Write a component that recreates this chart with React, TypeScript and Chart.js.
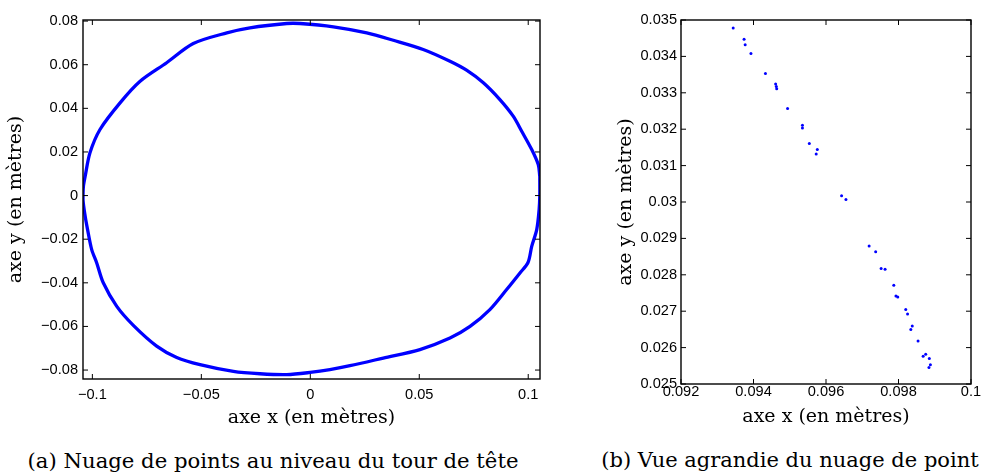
import React, { useEffect, useRef } from "react";
import { Chart, registerables } from "chart.js";

Chart.register(...registerables);

// ---------- Panel (a): head contour (metres) ----------
const contourX = [
  0.1053, 0.1046, 0.1016, 0.097, 0.0931, 0.087, 0.0794, 0.0717, 0.0641, 0.0518,
  0.0381, 0.0259, 0.0106, -0.0047, -0.0108, -0.0277, -0.0383, -0.0537, -0.0659, -0.0781,
  -0.0873, -0.0965, -0.1011, -0.1033, -0.1041, -0.1043, -0.1033, -0.1022, -0.1003, -0.098,
  -0.095, -0.0888, -0.0812, -0.0705, -0.0613, -0.0506, -0.0353, -0.0231, -0.0108, -0.0001,
  0.009, 0.0182, 0.0335, 0.0503, 0.0641, 0.0733, 0.0824, 0.0901, 0.0962, 0.0999,
  0.1016, 0.1039, 0.105, 0.1053,
];
const contourY = [
  0.0089, 0.0142, 0.0211, 0.0295, 0.0364, 0.044, 0.0517, 0.0575, 0.0616, 0.067,
  0.0712, 0.0746, 0.0774, 0.0789, 0.0789, 0.0769, 0.0746, 0.0697, 0.0609, 0.0524,
  0.0425, 0.0303, 0.0196, 0.0089, 0.0043, -0.0018, -0.0095, -0.0156, -0.0248, -0.0309,
  -0.04, -0.0508, -0.0595, -0.0690, -0.0742, -0.0775, -0.0806, -0.0817, -0.0821, -0.0811,
  -0.0798, -0.078, -0.0745, -0.0706, -0.0653, -0.06, -0.0523, -0.0431, -0.0355, -0.0307,
  -0.0233, -0.0156, -0.0064, 0.0,
];
const headXRange = [-0.1043, 0.1054];
const headYRange = [-0.0841, 0.0805];
const headXTicks = [-0.1, -0.05, 0, 0.05, 0.1];
const headXTickLabels = ["\u22120.1", "\u22120.05", "0", "0.05", "0.1"];
const headYTicks = [-0.08, -0.06, -0.04, -0.02, 0, 0.02, 0.04, 0.06, 0.08];
const headYTickLabels = [
  "\u22120.08", "\u22120.06", "\u22120.04", "\u22120.02", "0", "0.02", "0.04", "0.06", "0.08",
];

// ---------- Panel (b): zoomed view (metres) ----------
const zoomX = [
  0.09344, 0.09374, 0.09377, 0.09393, 0.09433, 0.09461, 0.09463, 0.09464, 0.09494, 0.09535,
  0.09535, 0.09554, 0.09576, 0.09573, 0.09643, 0.09655, 0.09719, 0.09737, 0.09752, 0.09763,
  0.09787, 0.09793, 0.09798, 0.0982, 0.09825, 0.09838, 0.09834, 0.09854, 0.09868, 0.09875,
  0.09885, 0.09888, 0.09884,
];
const zoomY = [
  0.03478, 0.03447, 0.03432, 0.03408, 0.03353, 0.03324, 0.03317, 0.03311, 0.03257, 0.03211,
  0.03203, 0.03161, 0.03144, 0.03132, 0.03017, 0.03007, 0.02879, 0.02863, 0.02817, 0.02815,
  0.02771, 0.02742, 0.02739, 0.02705, 0.02692, 0.02659, 0.0265, 0.02618, 0.02576, 0.02582,
  0.0257, 0.02553, 0.02545,
];
const zoomXRange = [0.092, 0.1];
const zoomYRange = [0.025, 0.035];
const zoomXTicks = [0.092, 0.094, 0.096, 0.098, 0.1];
const zoomXTickLabels = ["0.092", "0.094", "0.096", "0.098", "0.1"];
const zoomYTicks = [0.025, 0.026, 0.027, 0.028, 0.029, 0.03, 0.031, 0.032, 0.033, 0.034, 0.035];
const zoomYTickLabels = [
  "0.025", "0.026", "0.027", "0.028", "0.029", "0.03", "0.031", "0.032", "0.033", "0.034", "0.035",
];

const axisTitleX = "axe x (en m\u00e8tres)";
const axisTitleY = "axe y (en m\u00e8tres)";
const captionA = "(a) Nuage de points au niveau du tour de t\u00eate";
const captionB = "(b) Vue agrandie du nuage de point";

const BLUE = "#0000ff";
const TICK_FONT = { family: "'Liberation Sans', Arial, sans-serif", size: 14.6 };
const TITLE_FONT = { family: "'DejaVu Serif', serif", size: 19 };

const boxPlugin = {
  id: "matlabBox",
  afterDraw(chart: any) {
    const { ctx, chartArea: a, scales } = chart;
    const xs = scales.x;
    const ys = scales.y;
    const len = 5;
    ctx.save();
    ctx.strokeStyle = "#000";
    ctx.lineWidth = 1.4;
    ctx.strokeRect(a.left, a.top, a.right - a.left, a.bottom - a.top);
    ctx.lineWidth = 1;
    ctx.beginPath();
    for (const t of xs.ticks) {
      const px = xs.getPixelForValue(t.value);
      ctx.moveTo(px, a.bottom);
      ctx.lineTo(px, a.bottom - len);
      ctx.moveTo(px, a.top);
      ctx.lineTo(px, a.top + len);
    }
    for (const t of ys.ticks) {
      const py = ys.getPixelForValue(t.value);
      ctx.moveTo(a.left, py);
      ctx.lineTo(a.left + len, py);
      ctx.moveTo(a.right, py);
      ctx.lineTo(a.right - len, py);
    }
    ctx.stroke();
    ctx.restore();
  },
};

function labelFor(ticks: number[], labels: string[]) {
  return (v: number) => {
    const i = ticks.findIndex((t) => Math.abs(t - v) < 1e-9);
    return i >= 0 ? labels[i] : "";
  };
}

type PanelCfg = {
  datasets: any[];
  xRange: number[];
  yRange: number[];
  xTicks: number[];
  xLabels: string[];
  yTicks: number[];
  yLabels: string[];
  yWidth: number;
  xHeight: number;
  xTickPad: number;
  yTickPad: number;
  yTitlePad: number;
  xTitlePad: number;
  layoutPad: { left: number; top: number; right: number; bottom: number };
};

function buildConfig(c: PanelCfg): any {
  return {
    type: "scatter",
    data: { datasets: c.datasets },
    plugins: [boxPlugin],
    options: {
      responsive: false,
      animation: false,
      devicePixelRatio: 1,
      layout: { padding: c.layoutPad },
      plugins: { legend: { display: false }, tooltip: { enabled: false }, title: { display: false } },
      scales: {
        x: {
          type: "linear",
          position: "bottom",
          min: c.xRange[0],
          max: c.xRange[1],
          grid: { display: false, drawTicks: false },
          border: { display: false },
          afterBuildTicks: (s: any) => {
            s.ticks = c.xTicks.map((v) => ({ value: v }));
          },
          afterFit: (s: any) => {
            s.height = c.xHeight;
            s.paddingLeft = 0;
            s.paddingRight = 0;
          },
          ticks: {
            autoSkip: false,
            maxRotation: 0,
            minRotation: 0,
            padding: c.xTickPad,
            color: "#000",
            font: TICK_FONT,
            callback: labelFor(c.xTicks, c.xLabels),
          },
          title: {
            display: true,
            text: axisTitleX,
            color: "#000",
            font: TITLE_FONT,
            padding: { top: 0, bottom: c.xTitlePad },
          },
        },
        y: {
          type: "linear",
          position: "left",
          min: c.yRange[0],
          max: c.yRange[1],
          grid: { display: false, drawTicks: false },
          border: { display: false },
          afterBuildTicks: (s: any) => {
            s.ticks = c.yTicks.map((v) => ({ value: v }));
          },
          afterFit: (s: any) => {
            s.width = c.yWidth;
            s.paddingTop = 0;
            s.paddingBottom = 0;
          },
          ticks: {
            autoSkip: false,
            padding: c.yTickPad,
            color: "#000",
            font: TICK_FONT,
            callback: labelFor(c.yTicks, c.yLabels),
          },
          title: {
            display: true,
            text: axisTitleY,
            color: "#000",
            font: TITLE_FONT,
            padding: { top: c.yTitlePad, bottom: 0 },
          },
        },
      },
    },
  };
}

function Panel(props: { cfg: PanelCfg; left: number; width: number; height: number }) {
  const ref = useRef<HTMLCanvasElement | null>(null);
  useEffect(() => {
    if (!ref.current) return;
    const chart = new Chart(ref.current, buildConfig(props.cfg));
    return () => chart.destroy();
  }, []);
  return (
    <canvas
      ref={ref}
      width={props.width}
      height={props.height}
      style={{ position: "absolute", left: props.left, top: 0, width: props.width, height: props.height }}
    />
  );
}

const contourPoints = contourX.map((x, i) => ({ x, y: contourY[i] }));
const zoomPoints = zoomX.map((x, i) => ({ x, y: zoomY[i] }));

const headCfg: PanelCfg = {
  datasets: [
    {
      data: [...contourPoints, contourPoints[0]],
      showLine: true,
      borderColor: BLUE,
      borderWidth: 3.3,
      pointRadius: 0,
      tension: 0.3,
    },
  ],
  xRange: headXRange,
  yRange: headYRange,
  xTicks: headXTicks,
  xLabels: headXTickLabels,
  yTicks: headYTicks,
  yLabels: headYTickLabels,
  yWidth: 83,
  xHeight: 51,
  xTickPad: 7.5,
  yTickPad: 5,
  yTitlePad: 4.6,
  xTitlePad: 0.6,
  layoutPad: { left: 0, top: 20, right: 20, bottom: 0 },
};

const zoomCfg: PanelCfg = {
  datasets: [
    {
      data: zoomPoints,
      showLine: false,
      backgroundColor: BLUE,
      borderColor: BLUE,
      borderWidth: 0,
      pointRadius: 1.5,
    },
  ],
  xRange: zoomXRange,
  yRange: zoomYRange,
  xTicks: zoomXTicks,
  xLabels: zoomXTickLabels,
  yTicks: zoomYTicks,
  yLabels: zoomYTickLabels,
  yWidth: 81,
  xHeight: 46,
  xTickPad: -1.2,
  yTickPad: 4,
  yTitlePad: 14.6,
  xTitlePad: 1.6,
  layoutPad: { left: 0, top: 20, right: 10, bottom: 0 },
};

const captionStyle = (center: number, size: number): React.CSSProperties => ({
  position: "absolute",
  left: center - 300,
  width: 600,
  top: 450,
  textAlign: "center",
  fontFamily: "'DejaVu Serif', serif",
  fontSize: size,
  lineHeight: "21px",
  whiteSpace: "nowrap",
  color: "#000",
});

export default function App() {
  return (
    <div
      style={{
        position: "fixed",
        left: 0,
        top: 0,
        width: 981,
        height: 473,
        background: "#fff",
        overflow: "hidden",
      }}
    >
      <Panel cfg={headCfg} left={0} width={560} height={430} />
      <Panel cfg={zoomCfg} left={600} width={381} height={430} />
      <div style={captionStyle(273, 21.2)}>{captionA}</div>
      <div style={captionStyle(790, 21)}>{captionB}</div>
    </div>
  );
}
